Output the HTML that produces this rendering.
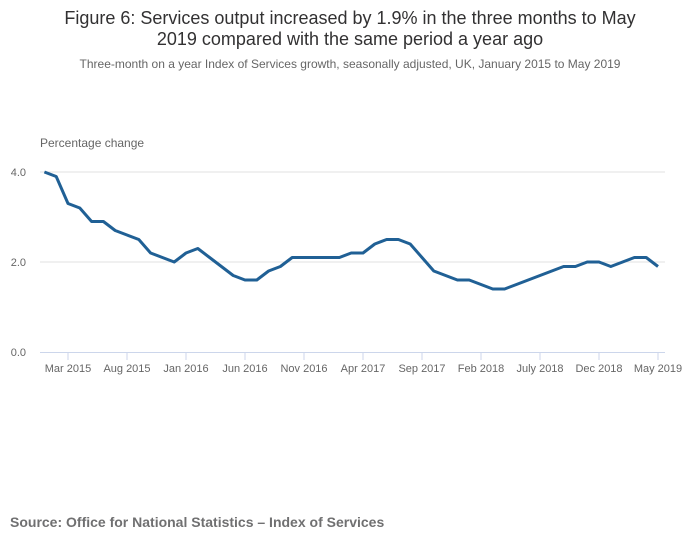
<!DOCTYPE html>
<html><head><meta charset="utf-8"><style>
body{margin:0;background:#fff;font-family:"Liberation Sans",sans-serif;}
#wrap{position:relative;width:700px;height:549px;overflow:hidden;}
</style></head><body>
<div id="wrap">
<svg id="chart" width="700" height="549">
<text x="350" y="24" text-anchor="middle" font-size="18" fill="#323132">Figure 6: Services output increased by 1.9% in the three months to May</text>
<text x="350" y="45" text-anchor="middle" font-size="18" fill="#323132">2019 compared with the same period a year ago</text>
<text x="350" y="68" text-anchor="middle" font-size="12" fill="#666">Three-month on a year Index of Services growth, seasonally adjusted, UK, January 2015 to May 2019</text>
<text x="40" y="147" font-size="12" fill="#666">Percentage change</text>
<g id="grid"></g><g id="xaxis"></g><g id="series"></g>
<text x="10" y="527" font-size="14" font-weight="bold" fill="#707071">Source: Office for National Statistics – Index of Services</text>
</svg>
</div>
<script>
const values=[4.0,3.9,3.3,3.2,2.9,2.9,2.7,2.6,2.5,2.2,2.1,2.0,2.2,2.3,2.1,1.9,1.7,1.6,1.6,1.8,1.9,2.1,2.1,2.1,2.1,2.1,2.2,2.2,2.4,2.5,2.5,2.4,2.1,1.8,1.7,1.6,1.6,1.5,1.4,1.4,1.5,1.6,1.7,1.8,1.9,1.9,2.0,2.0,1.9,2.0,2.1,2.1,1.9];
const yTicks=[0,2,4];
const yTickLabels=["0.0","2.0","4.0"];
const xTickIndex=[2,7,12,17,22,27,32,37,42,47,52];
const xTickLabels=["Mar 2015","Aug 2015","Jan 2016","Jun 2016","Nov 2016","Apr 2017","Sep 2017","Feb 2018","July 2018","Dec 2018","May 2019"];
const NS="http://www.w3.org/2000/svg";
const x0=44.4,dx=11.8,y0=352,ky=45;
const X=i=>x0+i*dx, Y=v=>y0-v*ky;
function mk(t,a,p){const e=document.createElementNS(NS,t);for(const k in a)e.setAttribute(k,a[k]);p.appendChild(e);return e;}
const grid=document.getElementById('grid'),xa=document.getElementById('xaxis'),se=document.getElementById('series');
yTicks.forEach((v,i)=>{
 if(v!==0){const l=mk('line',{x1:40,x2:665,y1:Y(v),y2:Y(v),stroke:'#e0e0e0','stroke-width':1},grid);
 
 }
 const t=mk('text',{x:26,y:Y(v)+4,'text-anchor':'end','font-size':11,fill:'#666'},grid);
 t.textContent=yTickLabels[i];
 
 
});
const ax=mk('line',{x1:40,x2:665,y1:y0+0.5,y2:y0+0.5,stroke:'#ccd6eb','stroke-width':1},xa);


xTickIndex.forEach((ix,i)=>{
 const tk=mk('line',{x1:X(ix),x2:X(ix),y1:y0,y2:y0+8,stroke:'#ccd6eb','stroke-width':1},xa);
 
 
 const t=mk('text',{x:X(ix),y:y0+20,'text-anchor':'middle','font-size':11,fill:'#666'},xa);
 t.textContent=xTickLabels[i];
 
 
});
const p=mk('path',{d:values.map((v,i)=>(i?'L':'M')+X(i)+' '+Y(v)).join(''),fill:'none',stroke:'#206095','stroke-width':3,'stroke-linejoin':'round'},se);


</script>
</body></html>
